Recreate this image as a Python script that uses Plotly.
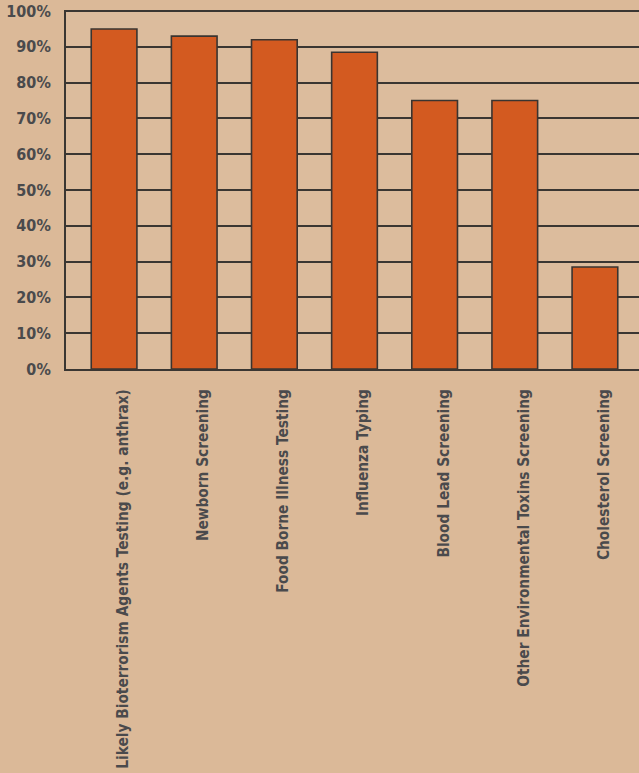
import plotly.graph_objects as go

# Share of laboratories offering each testing service
categories = [
    "Likely Bioterrorism Agents Testing (e.g. anthrax)",
    "Newborn Screening",
    "Food Borne Illness Testing",
    "Influenza Typing",
    "Blood Lead Screening",
    "Other Environmental Toxins Screening",
    "Cholesterol Screening",
]
percent = [95, 93, 92, 88.5, 75, 75, 28.5]
y_ticks = [0, 10, 20, 30, 40, 50, 60, 70, 80, 90, 100]
y_tick_labels = [f"{v}%" for v in y_ticks]

FONT = "Liberation Sans Narrow, DejaVu Sans Condensed, Arial Narrow, sans-serif"
TEXT = "#4a4a4c"
LINE = "#3a3632"

fig = go.Figure(
    go.Bar(
        x=categories,
        y=percent,
        marker=dict(color="#d35a20", line=dict(color="#3a3430", width=1.6)),
        width=0.57,
    )
)

fig.update_layout(
    width=639,
    height=773,
    margin=dict(l=66, r=0, t=10, b=404, autoexpand=False),
    paper_bgcolor="#dbb998",
    plot_bgcolor="#dcbc9d",
    showlegend=False,
    font=dict(family=FONT, color=TEXT),
)

fig.update_xaxes(
    range=[-0.6, 6.55],
    automargin=False,
    tickangle=-90,
    ticks="",
    showgrid=False,
    showline=True,
    linecolor=LINE,
    linewidth=2,
    tickfont=dict(family=FONT, size=15.3, color=TEXT, weight="bold"),
    ticklabelstandoff=12,
    ticklabelshift=9,
)

# a little headroom keeps the 100% gridline fully inside the plot area
fig.update_yaxes(
    range=[0, 100.3],
    automargin=False,
    tickvals=y_ticks,
    ticktext=y_tick_labels,
    ticks="",
    showgrid=True,
    gridcolor=LINE,
    gridwidth=1.6,
    zeroline=False,
    showline=True,
    linecolor=LINE,
    linewidth=2,
    tickfont=dict(family=FONT, size=16, color=TEXT, weight="bold"),
    ticklabelstandoff=10,
)

fig.write_html("out.html")
